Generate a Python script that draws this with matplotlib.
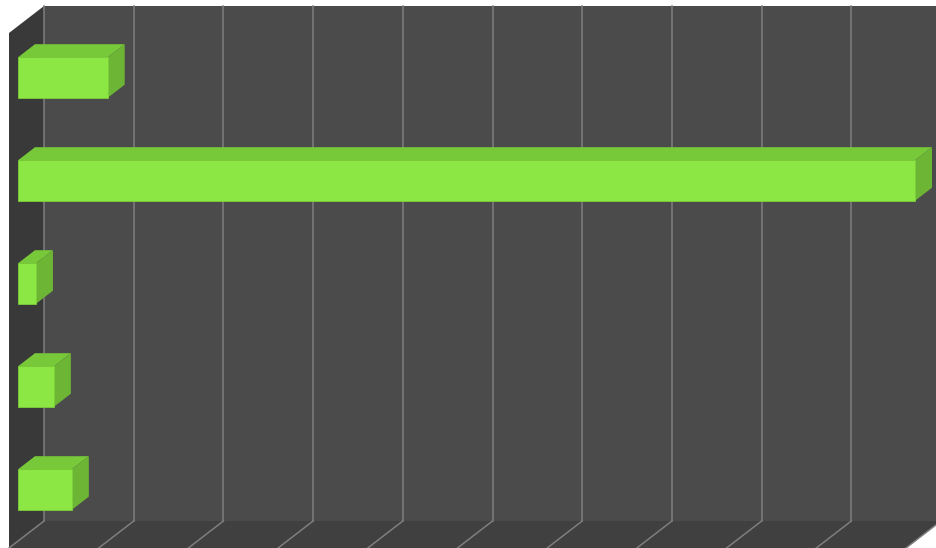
import matplotlib
matplotlib.use("Agg")
import matplotlib.pyplot as plt
from matplotlib.patches import Polygon

# Data
categories = ["A", "B", "C", "D", "E"]
values = [5, 50, 1, 2, 3]
x_ticks = list(range(0, 55, 5))
x_max = 50

# Colours
wall_back = "#4b4b4b"
wall_side = "#393939"
floor_col = "#404040"
grid_col = "#7e7e7e"
face_front = "#8ce644"
face_top = "#78c93a"
face_side = "#6db534"

W, H = 936, 548
fig = plt.figure(figsize=(W / 100, H / 100), dpi=100)
fig.patch.set_facecolor("white")
ax = fig.add_axes([0, 0, 1, 1])
ax.axis("off")

# Front plane scale: value 0 sits 9 px from the left edge, 5 units per ~89.7 px;
# each category band is 103 px tall, starting 33 px below the top.
px_per_unit = 89.7 / 5
band_px = 103.0
ax.set_xlim(-9 / px_per_unit, (W - 9) / px_per_unit)
n = len(categories)
ax.set_ylim(n - 0.5, -0.5 - 33 / band_px)

# Oblique depth offset of the whole box (35 px right, 27 px up)
DX = 35 / px_per_unit
DY = -27 / band_px

y_top, y_bot = -0.5, n - 0.5

# Back wall
ax.add_patch(Polygon([(DX, y_top + DY), (x_max + DX, y_top + DY),
                      (x_max + DX, y_bot + DY), (DX, y_bot + DY)],
                     closed=True, facecolor=wall_back, edgecolor="none", zorder=1))
# Floor
ax.add_patch(Polygon([(0, y_bot), (x_max, y_bot), (x_max + DX, y_bot + DY), (DX, y_bot + DY)],
                     closed=True, facecolor=floor_col, edgecolor="none", zorder=1))
# Left wall
ax.add_patch(Polygon([(0, y_top), (DX, y_top + DY), (DX, y_bot + DY), (0, y_bot)],
                     closed=True, facecolor=wall_side, edgecolor="none", zorder=1))

# Grid lines on back wall and floor
for t in x_ticks:
    ax.plot([t + DX, t + DX], [y_top + DY, y_bot + DY], color=grid_col, lw=1.1, zorder=2)
    ax.plot([t + DX, t], [y_bot + DY, y_bot], color=grid_col, lw=1.1, zorder=2)

# Bars: occupy the middle of the depth
d0, d1 = 9 / 35, 26 / 35
dd = d1 - d0
h = 40.5 / band_px
for i, v in enumerate(values):
    yc = i + d0 * DY
    x0 = d0 * DX
    ax.barh(yc, v, left=x0, height=h, color=face_front,
            edgecolor="#7ccf3a", linewidth=0.6, zorder=5)
    yt = yc - h / 2
    yb = yc + h / 2
    ax.add_patch(Polygon([(x0, yt), (x0 + v, yt), (x0 + v + dd * DX, yt + dd * DY),
                          (x0 + dd * DX, yt + dd * DY)],
                         closed=True, facecolor=face_top, edgecolor="none", zorder=4))
    ax.add_patch(Polygon([(x0 + v, yt), (x0 + v, yb), (x0 + v + dd * DX, yb + dd * DY),
                          (x0 + v + dd * DX, yt + dd * DY)],
                         closed=True, facecolor=face_side, edgecolor="none", zorder=4))

fig.savefig("out.png", dpi=100, facecolor="white")
